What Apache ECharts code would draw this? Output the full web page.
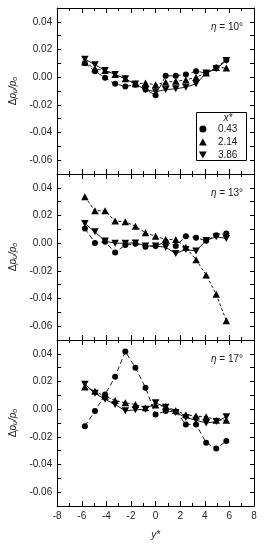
<!DOCTYPE html>
<html><head><meta charset="utf-8">
<script src="https://cdn.jsdelivr.net/npm/echarts@6/dist/echarts.min.js"></script>
<style>html,body{margin:0;padding:0;background:#fff}#c{width:265px;height:550px}</style>
</head><body><div id="c"></div>
<script>
const yStar = [-5.75,-4.93,-4.11,-3.29,-2.46,-1.64,-0.82,0,0.82,1.64,2.46,3.29,4.11,4.93,5.75];
const seriesNames = ['0.43','2.14','3.86'];
const panelLabels = ['10°','13°','17°'];
const xTicks = [-8,-6,-4,-2,0,2,4,6,8];
const yTicks = [-0.06,-0.04,-0.02,0.00,0.02,0.04];

// eta = 10°
const eta10_x043 = [0.010, 0.0043, -0.0005, -0.0048, -0.0067, -0.0055, -0.009, -0.013, 0.001, 0.001, 0.002, 0.0043, 0.003, 0.007, 0.0125];
const eta10_x214 = [0.011, 0.006, 0.0048, 0.002, -0.0012, -0.0048, -0.0043, -0.0055, -0.0036, -0.003, -0.002, 0.000, 0.003, 0.007, 0.0067];
const eta10_x386 = [0.013, 0.009, 0.0048, 0.002, -0.0012, -0.005, -0.009, -0.0105, -0.009, -0.0084, -0.0072, -0.0048, 0.003, 0.006, 0.012];
// eta = 13°
const eta13_x043 = [0.0106, 0.0002, 0.001, -0.0067, -0.0014, -0.0005, -0.0025, -0.002, 0.001, -0.002, 0.005, 0.004, 0.0017, 0.0058, 0.007];
const eta13_x214 = [0.0335, 0.0234, 0.0234, 0.016, 0.0154, 0.0123, 0.0075, 0.005, 0.0027, 0.0027, -0.003, -0.012, -0.023, -0.037, -0.056];
const eta13_x386 = [0.0142, 0.0082, 0.0015, 0.000, 0.000, 0.0002, -0.002, -0.002, -0.003, -0.0075, -0.0046, -0.0056, 0.002, 0.0046, 0.0034];
// eta = 17°
const eta17_x043 = [-0.0123, -0.0014, 0.0106, 0.0234, 0.0417, 0.030, 0.0155, -0.0038, -0.0014, -0.0018, -0.011, -0.011, -0.0243, -0.0284, -0.0231];
const eta17_x214 = [0.016, 0.013, 0.0094, 0.0063, 0.0046, 0.0034, 0.001, 0.003, 0.002, -0.001, -0.004, -0.005, -0.0055, -0.008, -0.008];
const eta17_x386 = [0.018, 0.0115, 0.0072, 0.0034, -0.0012, -0.0005, 0.000, 0.0046, 0.0014, -0.0024, -0.006, -0.008, -0.010, -0.009, -0.0055];

const panels = [
  [eta10_x043, eta10_x214, eta10_x386],
  [eta13_x043, eta13_x214, eta13_x386],
  [eta17_x043, eta17_x214, eta17_x386]
];

const downTri = 'path://M0,0 L10,0 L5,9 Z';
const upTri = 'path://M5,0 L10,9 L0,9 Z';
const symbols = ['circle', upTri, downTri];
const symbolSizes = [6, [7.5,7], [7.5,7]];
const dashes = [[5,3], [3,2], 'solid'];
const FONT = 'Liberation Sans, Arial, sans-serif';

const L = 56, W = 198, H = 166;
const tops = [8, 174, 340];

const grids = [], xAxes = [], yAxes = [], series = [], graphics = [];
const fmtY = v => { const k = Math.round(v*100); if (k % 2 !== 0) return ''; return (k/100).toFixed(2); };

tops.forEach((t, i) => {
  grids.push({left: L, top: t, width: W, height: H});
  const last = i === 2;
  ['bottom','top'].forEach((pos, j) => {
    xAxes.push({
      type: 'value', gridIndex: i, position: pos, min: -8, max: 8, interval: 2,
      axisLine: {show: true, onZero: false, lineStyle: {color: '#000', width: 1}},
      axisTick: {show: true, inside: true, length: 5, lineStyle: {color: '#000'}},
      minorTick: {show: true, splitNumber: 2, length: 3, lineStyle: {color: '#000'}},
      splitLine: {show: false},
      axisLabel: {show: last && j === 0, margin: 5, fontSize: 10, color: '#222', fontFamily: FONT},
      name: (last && j === 0) ? 'y*' : '',
      nameLocation: 'middle', nameGap: 24,
      nameTextStyle: {fontSize: 10, fontStyle: 'italic', color: '#222', fontFamily: FONT}
    });
  });
  ['left','right'].forEach((pos, j) => {
    yAxes.push({
      type: 'value', gridIndex: i, position: pos, min: -0.07, max: 0.05, interval: 0.01,
      axisLine: {show: true, onZero: false, lineStyle: {color: '#000', width: 1}},
      axisTick: {show: true, inside: true, length: 4, lineStyle: {color: '#000'}},
      splitLine: {show: false},
      axisLabel: {show: j === 0, margin: 5, fontSize: 10, color: '#222', fontFamily: FONT, formatter: fmtY},
      name: j === 0 ? '{a|Δ}{i|p}{s|u}{i|/p}{s|o}' : '',
      nameLocation: 'middle', nameGap: 35,
      nameTextStyle: {fontSize: 10, color: '#222', fontFamily: FONT,
        rich: {a: {fontSize: 10, fontFamily: FONT, color: '#222'},
               i: {fontSize: 10, fontStyle: 'italic', fontFamily: FONT, color: '#222'},
               s: {fontSize: 7, fontStyle: 'italic', fontFamily: FONT, color: '#222', verticalAlign: 'bottom', padding: [4,0,0,0]}}}
    });
  });
  panels[i].forEach((vals, k) => {
    series.push({
      type: 'line', name: seriesNames[k], xAxisIndex: 2*i, yAxisIndex: 2*i,
      data: yStar.map((x, n) => [x, vals[n]]),
      symbol: symbols[k], symbolSize: symbolSizes[k], showAllSymbol: true,
      itemStyle: {color: '#000'},
      lineStyle: {color: '#000', width: 0.9, type: dashes[k]},
      animation: false, z: 3 + k
    });
  });
  graphics.push({
    type: 'text', right: 22, top: t + 14,
    style: {text: '{i|η} = ' + panelLabels[i], fontSize: 10, fontFamily: FONT, fill: '#222',
      rich: {i: {fontStyle: 'italic', fontSize: 10, fontFamily: FONT, fill: '#222'}}}
  });
});

graphics.push({type: 'rect', shape: {x: 196.5, y: 112.5, width: 50, height: 48}, style: {fill: '#fff', stroke: '#000', lineWidth: 1}, z: 10});
graphics.push({type: 'text', x: 228, y: 118, style: {text: 'x*', fontSize: 10, fontStyle: 'italic', fontFamily: FONT, fill: '#222', align: 'center', verticalAlign: 'middle'}, z: 11});

const chart = echarts.init(document.getElementById('c'), null, {renderer: 'canvas'});
chart.setOption({
  animation: false,
  grid: grids, xAxis: xAxes, yAxis: yAxes, series: series,
  legend: {
    orient: 'vertical', left: 199, top: 123, padding: 0, itemWidth: 8, itemHeight: 7, itemGap: 1, z: 20,
    selectedMode: false,
    textStyle: {fontSize: 10, color: '#222', fontFamily: FONT, lineHeight: 12, padding: [0,0,0,6]},
    data: seriesNames.map((n, k) => ({name: n, icon: symbols[k]}))
  },
  graphic: graphics
});
</script></body></html>
